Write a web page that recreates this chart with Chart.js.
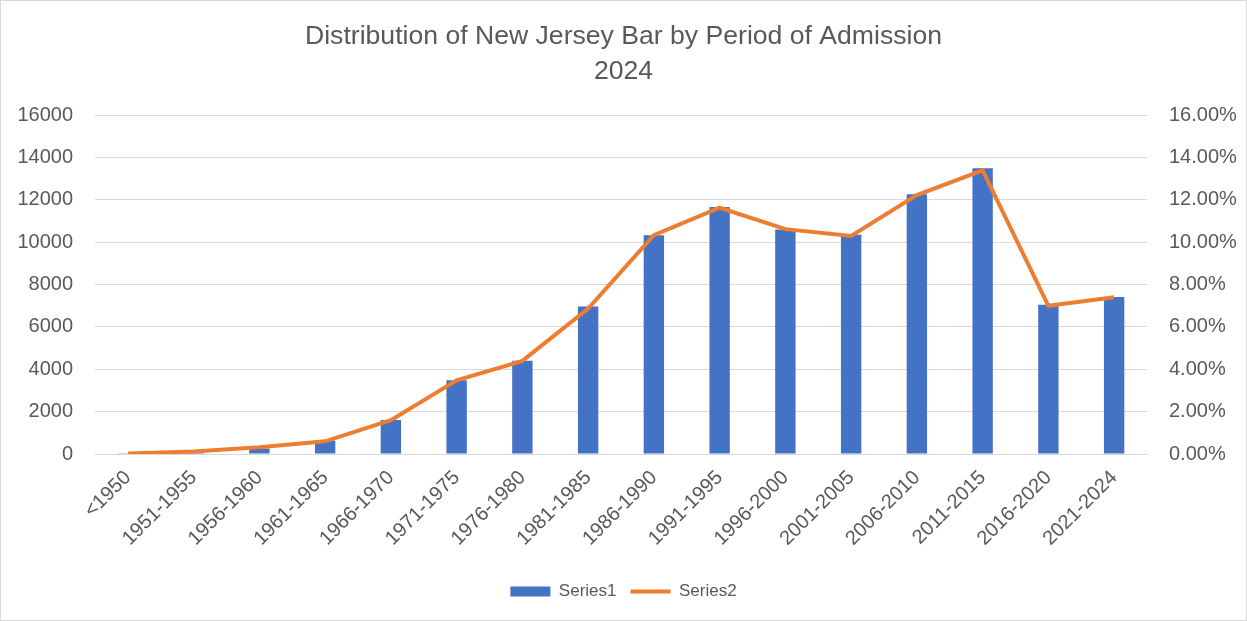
<!DOCTYPE html>
<html>
<head>
<meta charset="utf-8">
<script src="https://cdn.jsdelivr.net/npm/chart.js@4.4.1/dist/chart.umd.min.js"></script>
<style>
  html, body { margin: 0; padding: 0; background: #fff; }
  #wrap { width: 1247px; height: 621px; box-sizing: border-box; border: 1px solid #d9d9d9; }
  canvas { display: block; }
</style>
</head>
<body>
<div id="wrap"><canvas id="barChart" width="1245" height="619"></canvas></div>
<script>
// categories
const periods = ["<1950","1951-1955","1956-1960","1961-1965","1966-1970","1971-1975","1976-1980","1981-1985",
  "1986-1990","1991-1995","1996-2000","2001-2005","2006-2010","2011-2015","2016-2020","2021-2024"];
// Series1 - attorneys admitted
const series1 = [15, 70, 260, 620, 1600, 3480, 4400, 6970, 10330, 11660, 10600, 10360, 12270, 13490, 7050, 7410];
// Series2 - share of bar
const series2 = [0.0002, 0.0012, 0.0032, 0.0060, 0.0160, 0.0348, 0.0440, 0.0687, 0.1033, 0.1163, 0.1062, 0.1030, 0.1223, 0.1340, 0.0700, 0.0740];
// tick settings
const leftMax = 16000, leftStep = 2000;
const rightMax = 0.16, rightStep = 0.02;

const txt = "#595959";
const gridCol = "#d9d9d9";
const fam = "'Liberation Sans', Arial, sans-serif";

class ComboChart{
    constructor(canvasId){
        this.canvasId = canvasId;
        this.chart = null;
    }

    renderChart(){
        const ctx = document.getElementById(this.canvasId).getContext("2d");

        this.chart = new Chart(ctx,{
            type:"bar",
            data:{
                labels: periods,
                datasets:[{
                    type:"line",
                    label:"Series2",
                    data: series2,
                    yAxisID:"y1",
                    borderColor:"#ED7D31",
                    backgroundColor:"#ED7D31",
                    borderWidth:4,
                    pointRadius:0,
                    tension:0,
                    pointStyle:"line",
                    order:1
                },{
                    label:"Series1",
                    data: series1,
                    yAxisID:"y",
                    backgroundColor:"#4472C4",
                    borderWidth:0,
                    categoryPercentage:1,
                    barPercentage:0.31,
                    pointStyle:"rect",
                    order:2
                }]
            },
            options:{
                responsive:false,
                animation:false,
                layout:{ padding:{ left:0, right:0, top:0, bottom:10 } },
                plugins:{
                    title:{
                        display:true,
                        text:["Distribution of New Jersey Bar by Period of Admission","2024"],
                        color:txt,
                        font:{ family:fam, size:26.6, weight:"normal", lineHeight:1.32 },
                        padding:{ top:18, bottom:26 }
                    },
                    legend:{
                        position:"bottom",
                        reverse:true,
                        labels:{
                            usePointStyle:true,
                            pointStyleWidth:40,
                            boxHeight:10,
                            padding:14,
                            color:txt,
                            font:{ family:fam, size:17 }
                        }
                    },
                    tooltip:{ enabled:false }
                },
                scales:{
                    x:{
                        grid:{ display:false },
                        border:{ color:gridCol, width:1 },
                        ticks:{
                            color:txt,
                            font:{ family:fam, size:20 },
                            minRotation:45,
                            maxRotation:45,
                            autoSkip:false,
                            padding:4
                        },
                        afterFit:(s)=>{ s.height = 115; }
                    },
                    y:{
                        position:"left",
                        min:0,
                        max:leftMax,
                        grid:{ color:gridCol, drawTicks:false },
                        border:{ display:false },
                        ticks:{
                            stepSize:leftStep,
                            color:txt,
                            font:{ family:fam, size:20 },
                            padding:22,
                            callback:(v)=> String(v)
                        },
                        afterFit:(s)=>{ s.width = 94; }
                    },
                    y1:{
                        position:"right",
                        min:0,
                        max:rightMax,
                        grid:{ drawOnChartArea:false, drawTicks:false },
                        border:{ display:false },
                        ticks:{
                            stepSize:rightStep,
                            color:txt,
                            font:{ family:fam, size:20 },
                            padding:22,
                            callback:(v)=> (v*100).toFixed(2) + "%"
                        },
                        afterFit:(s)=>{ s.width = 99; }
                    }
                }
            }
        });
    }

    init(){
        this.renderChart();
    }
}

document.addEventListener("DOMContentLoaded", ()=>{
    const chart = new ComboChart("barChart");
    chart.init();
});
</script>
</body>
</html>
